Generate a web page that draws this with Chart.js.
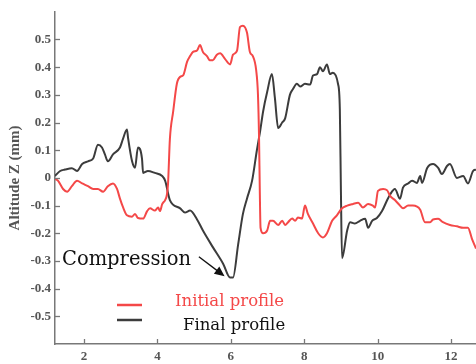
<!DOCTYPE html>
<html>
<head>
<meta charset="utf-8">
<script src="https://cdn.jsdelivr.net/npm/chart.js@4.4.1/dist/chart.umd.min.js"></script>
<style>
html,body{margin:0;padding:0;background:#fff;}
#wrap{width:476px;height:364px;}
</style>
</head>
<body>
<div id="wrap"><canvas id="c" width="476" height="364"></canvas></div>
<script>
const xTicks = [2, 4, 6, 8, 10, 12];
const yTicks = [-0.5, -0.4, -0.3, -0.2, -0.1, 0, 0.1, 0.2, 0.3, 0.4, 0.5];

const initialX = [1.21,1.29,1.43,1.54,1.67,1.81,1.95,2.11,2.25,2.38,2.52,2.65,2.79,2.90,2.98,3.06,3.17,3.31,3.39,3.47,3.61,3.72,3.80,3.93,4.02,4.07,4.13,4.21,4.26,4.29,4.34,4.43,4.53,4.62,4.70,4.81,4.89,4.97,5.08,5.16,5.24,5.35,5.43,5.51,5.62,5.71,5.84,5.98,6.06,6.17,6.25,6.33,6.44,6.52,6.60,6.69,6.74,6.77,6.79,6.81,6.88,6.99,7.07,7.15,7.29,7.40,7.48,7.56,7.67,7.75,7.83,7.94,8.02,8.10,8.24,8.38,8.51,8.62,8.76,8.89,9.03,9.17,9.33,9.47,9.60,9.74,9.87,9.93,10.01,10.15,10.26,10.34,10.47,10.61,10.69,10.83,10.96,11.16,11.29,11.43,11.51,11.65,11.78,11.97,12.16,12.33,12.46,12.57,12.68];
const initialZ = [-0.003,-0.01,-0.04,-0.05,-0.03,-0.01,-0.02,-0.03,-0.04,-0.04,-0.05,-0.03,-0.02,-0.04,-0.075,-0.105,-0.135,-0.14,-0.13,-0.145,-0.147,-0.12,-0.11,-0.118,-0.107,-0.12,-0.095,-0.08,-0.06,-0.02,0.14,0.24,0.34,0.365,0.37,0.42,0.44,0.455,0.46,0.48,0.455,0.44,0.425,0.425,0.445,0.45,0.43,0.41,0.445,0.46,0.545,0.55,0.525,0.455,0.44,0.39,0.30,0.14,-0.05,-0.18,-0.20,-0.19,-0.155,-0.155,-0.17,-0.155,-0.17,-0.16,-0.147,-0.155,-0.143,-0.147,-0.10,-0.13,-0.165,-0.20,-0.215,-0.20,-0.155,-0.135,-0.11,-0.10,-0.094,-0.09,-0.107,-0.094,-0.10,-0.107,-0.047,-0.04,-0.045,-0.065,-0.08,-0.10,-0.11,-0.10,-0.10,-0.115,-0.16,-0.16,-0.15,-0.148,-0.16,-0.17,-0.175,-0.18,-0.18,-0.22,-0.255];

const finalX = [1.21,1.35,1.48,1.67,1.81,1.95,2.11,2.25,2.38,2.49,2.57,2.65,2.79,2.98,3.06,3.17,3.20,3.31,3.39,3.47,3.58,3.61,3.74,3.93,4.13,4.21,4.34,4.62,4.75,4.89,5.08,5.24,5.51,5.79,5.98,6.06,6.20,6.33,6.44,6.58,6.71,6.80,6.88,6.99,7.12,7.20,7.29,7.40,7.48,7.61,7.69,7.80,7.89,8.02,8.16,8.24,8.35,8.43,8.51,8.62,8.70,8.78,8.92,8.97,9.00,9.03,9.17,9.25,9.38,9.52,9.66,9.74,9.85,9.98,10.12,10.26,10.34,10.47,10.61,10.69,10.83,10.94,11.07,11.16,11.21,11.35,11.51,11.65,11.75,11.89,11.97,12.16,12.33,12.46,12.60,12.68];
const finalZ = [0.007,0.025,0.03,0.035,0.025,0.05,0.06,0.07,0.12,0.11,0.085,0.06,0.085,0.11,0.14,0.175,0.145,0.06,0.037,0.11,0.07,0.018,0.025,0.018,0.007,-0.01,-0.08,-0.11,-0.125,-0.118,-0.15,-0.19,-0.25,-0.31,-0.36,-0.36,-0.24,-0.13,-0.075,-0.01,0.10,0.17,0.24,0.31,0.375,0.29,0.18,0.20,0.215,0.30,0.32,0.34,0.33,0.34,0.337,0.37,0.375,0.40,0.385,0.41,0.375,0.38,0.34,0.25,-0.05,-0.29,-0.19,-0.16,-0.165,-0.155,-0.148,-0.18,-0.155,-0.145,-0.12,-0.08,-0.06,-0.04,-0.075,-0.035,-0.02,-0.01,-0.018,0.007,-0.018,0.036,0.05,0.036,0.014,0.043,0.05,0.0,0.007,-0.02,0.025,0.03];

const seriesNames = ['Initial profile', 'Final profile'];
const annotationText = 'Compression';
const yTitle = 'Altitude Z (mm)';

const RED = 'rgb(244,72,72)';
const DARK = 'rgb(60,60,60)';
const AXIS = 'rgb(120,120,120)';
const TICKFONT = {family: '"Liberation Serif", "Times New Roman", serif', size: 13, weight: 'bold'};

function pts(xs, ys){ return xs.map((x,i)=>({x:x, y:ys[i]})); }

const overlay = {
  id: 'overlay',
  afterDraw(chart){
    const ctx = chart.ctx, xs = chart.scales.x, ys = chart.scales.y;
    const area = chart.chartArea;
    ctx.save();
    // inward tick marks
    ctx.strokeStyle = AXIS; ctx.lineWidth = 1.3;
    yTicks.forEach(v=>{
      const py = Math.round(ys.getPixelForValue(v))+0.5;
      ctx.beginPath(); ctx.moveTo(area.left, py); ctx.lineTo(area.left+5, py); ctx.stroke();
    });
    xTicks.forEach(v=>{
      const px = Math.round(xs.getPixelForValue(v))+0.5;
      ctx.beginPath(); ctx.moveTo(px, area.bottom); ctx.lineTo(px, area.bottom-5); ctx.stroke();
    });
    // annotation
    ctx.font = '19.5px "DejaVu Serif", serif';
    ctx.fillStyle = '#111';
    ctx.textBaseline = 'middle'; ctx.textAlign = 'left';
    const tx = xs.getPixelForValue(1.40), ty = ys.getPixelForValue(-0.297);
    ctx.fillText(annotationText, tx, ty);
    // arrow
    const ax0 = xs.getPixelForValue(5.13), ay0 = ys.getPixelForValue(-0.285);
    const ax1 = xs.getPixelForValue(5.83), ay1 = ys.getPixelForValue(-0.355);
    const ang = Math.atan2(ay1-ay0, ax1-ax0);
    ctx.strokeStyle = '#111'; ctx.lineWidth = 1.3;
    ctx.beginPath(); ctx.moveTo(ax0, ay0);
    ctx.lineTo(ax1 - 8*Math.cos(ang), ay1 - 8*Math.sin(ang)); ctx.stroke();
    ctx.fillStyle = '#111';
    ctx.beginPath();
    ctx.moveTo(ax1, ay1);
    ctx.lineTo(ax1 - 10*Math.cos(ang) + 4.5*Math.sin(ang), ay1 - 10*Math.sin(ang) - 4.5*Math.cos(ang));
    ctx.lineTo(ax1 - 10*Math.cos(ang) - 4.5*Math.sin(ang), ay1 - 10*Math.sin(ang) + 4.5*Math.cos(ang));
    ctx.closePath(); ctx.fill();
    // legend
    ctx.lineWidth = 2.5;
    ctx.strokeStyle = RED;
    ctx.beginPath(); ctx.moveTo(117, 305); ctx.lineTo(142, 305); ctx.stroke();
    ctx.strokeStyle = DARK;
    ctx.beginPath(); ctx.moveTo(117, 320); ctx.lineTo(142, 320); ctx.stroke();
    ctx.font = '16.5px "DejaVu Serif", serif';
    ctx.fillStyle = RED;
    ctx.fillText(seriesNames[0], 175, 302);
    ctx.fillStyle = '#111';
    ctx.fillText(seriesNames[1], 183, 326);
    ctx.restore();
  }
};

new Chart(document.getElementById('c'), {
  type: 'line',
  data: {
    datasets: [
      {label: seriesNames[0], data: pts(initialX, initialZ), borderColor: RED, borderWidth: 2, pointRadius: 0, cubicInterpolationMode: 'monotone', fill: false},
      {label: seriesNames[1], data: pts(finalX, finalZ), borderColor: DARK, borderWidth: 2, pointRadius: 0, cubicInterpolationMode: 'monotone', fill: false}
    ]
  },
  options: {
    responsive: false,
    animation: false,
    events: [],
    layout: {padding: {top: 10, right: 0, left: 0, bottom: 0}},
    plugins: {legend: {display: false}, tooltip: {enabled: false}},
    scales: {
      x: {
        type: 'linear', min: 1.21, max: 12.68,
        afterBuildTicks: s => { s.ticks = xTicks.map(v=>({value:v})); },
        afterFit: s => { s.height = 20; },
        grid: {display: true, drawOnChartArea: false, drawTicks: false},
        border: {display: true, color: AXIS, width: 1.5},
        ticks: {padding: 5, color: '#555', font: TICKFONT, maxRotation: 0, callback: v => String(v)}
      },
      y: {
        type: 'linear', min: -0.6, max: 0.6,
        afterBuildTicks: s => { s.ticks = yTicks.map(v=>({value:v})); },
        afterFit: s => { s.width = 55; },
        grid: {display: true, drawOnChartArea: false, drawTicks: false},
        border: {display: true, color: AXIS, width: 1.5},
        title: {display: true, text: yTitle, color: '#555', font: {family: '"Liberation Serif", "Times New Roman", serif', size: 15, weight: 'bold'}, padding: {top: 6, bottom: 0}},
        ticks: {padding: 4, color: '#555', font: TICKFONT, callback: v => (Math.abs(v) < 1e-9 ? '0' : (Math.round(v*10)/10).toString())}
      }
    }
  },
  plugins: [overlay]
});
</script>
</body>
</html>
